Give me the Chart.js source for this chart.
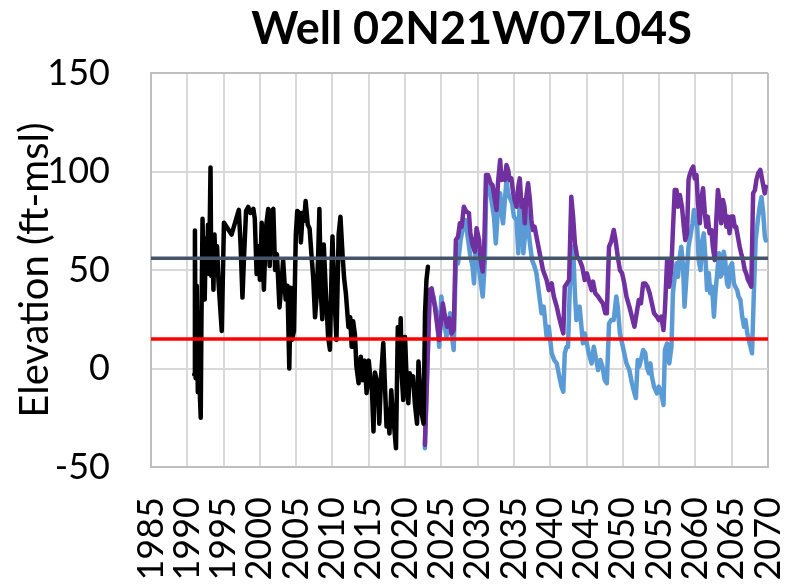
<!DOCTYPE html>
<html>
<head>
<meta charset="utf-8">
<script src="https://cdn.jsdelivr.net/npm/chart.js@4/dist/chart.umd.min.js"></script>
<style>
  html, body { margin: 0; padding: 0; background: #ffffff; }
  #chart { display: block; }
</style>
</head>
<body>
<canvas id="chart" width="800" height="584"></canvas>
<script>
// Observed groundwater elevations (decimal year, ft-msl)
const observedYears = [
  1990.95, 1991.05, 1991.15, 1991.3, 1991.45, 1991.6, 1991.75, 1991.85, 1991.95, 1992.1,
  1992.25, 1992.4, 1992.55, 1992.7, 1992.85, 1993.0, 1993.2, 1993.3, 1993.45, 1993.6,
  1993.75, 1993.9, 1994.1, 1994.3, 1994.55, 1994.75, 1995.05, 1996.1, 1997.1, 1997.35,
  1997.6, 1997.85, 1998.1, 1998.4, 1998.7, 1999.1, 1999.3, 1999.55, 1999.75, 2000.0,
  2000.25, 2000.55, 2000.85, 2001.15, 2001.35, 2001.6, 2001.85, 2002.1, 2002.35, 2002.7,
  2002.95, 2003.2, 2003.55, 2003.8, 2004.05, 2004.25, 2004.4, 2004.7, 2004.95, 2005.15,
  2005.45, 2005.65, 2005.9, 2006.1, 2006.3, 2006.6, 2006.85, 2007.1, 2007.35, 2007.6,
  2007.85, 2008.05, 2008.2, 2008.4, 2008.6, 2008.8, 2009.1, 2009.4, 2009.65, 2009.9,
  2010.0, 2010.25, 2010.55, 2010.85, 2011.1, 2011.4, 2011.6, 2011.85, 2012.2, 2012.45,
  2012.65, 2012.85, 2013.1, 2013.3, 2013.6, 2013.9, 2014.15, 2014.45, 2014.7, 2015.0,
  2015.25, 2015.45, 2015.65, 2015.85, 2016.1, 2016.3, 2016.45, 2016.7, 2017.0, 2017.2,
  2017.45, 2017.65, 2017.85, 2018.1, 2018.3, 2018.5, 2018.75, 2019.0, 2019.2, 2019.4,
  2019.55, 2019.75, 2020.0, 2020.2, 2020.45, 2020.65, 2020.9, 2021.1, 2021.35, 2021.65,
  2021.85, 2022.1, 2022.3, 2022.55, 2022.75, 2022.95, 2023.15
];
const observedElev = [
  -3, 70, -5, 42, -12, 28, -15, -25, 25, 76,
  40, 35, 66, 52, 73, 48, 102, 47, 67, 40,
  68, 48, 62, 44, 30, 19, 74, 68, 80.5, 62,
  36, 60, 80, 82, 79, 81, 76, 48, 62, 45,
  74, 40, 72, 81, 52, 80, 81, 50, 58, 31,
  42, 55, 35, 42, 0, 41, 14.5, 19, 68, 80,
  79, 64, 79, 75, 85, 73, 71, 58, 46, 26,
  38, 60, 81, 38, 25, 63, 38, 16, 9.5, 54,
  67, 38, 14.5, 68, 77, 57, 46, 38, 21, 26,
  11, 24, 17, 1, -7.5, 6, -6, 4, -12.5, 4,
  -6, -12, -32, -2, -6, -12, -28, -4, 13, -6,
  -29.5, -21, -33, -11, -23, -29.5, -40.5, 21, -1, 25.5,
  -4, -16, 16, -4, -17.7, -2.4, -6, -4, -17.7, -28,
  3.5, -12.6, -23, -28, 28, 45, 51.7
];

// Projected elevations, scenario shown in blue
const blueYears = [
  2022.73, 2023.4, 2023.9, 2024.35, 2024.7, 2025.0, 2025.35, 2025.7, 2026.2, 2026.4,
  2026.7, 2027.0, 2027.3, 2027.65, 2028.0, 2028.3, 2028.7, 2029.0, 2029.3, 2029.5,
  2029.75, 2030.05, 2030.4, 2030.7, 2031.0, 2031.2, 2031.6, 2031.9, 2032.25, 2032.5,
  2032.85, 2033.1, 2033.3, 2033.5, 2033.75, 2033.97, 2034.2, 2034.4, 2034.75, 2035.0,
  2035.35, 2035.6, 2035.8, 2036.05, 2036.3, 2036.5, 2036.7, 2036.95, 2037.2, 2037.5,
  2037.85, 2038.1, 2038.45, 2038.8, 2039.1, 2039.5, 2039.8, 2040.2, 2040.55, 2040.9,
  2041.25, 2041.55, 2041.8, 2042.0, 2042.25, 2042.45, 2042.7, 2042.9, 2043.15, 2043.4,
  2043.6, 2043.85, 2044.05, 2044.3, 2044.5, 2044.75, 2045.05, 2045.3, 2045.7, 2046.0,
  2046.25, 2046.6, 2046.9, 2047.2, 2047.5, 2047.8, 2048.1, 2048.4, 2048.75, 2049.1,
  2049.3, 2049.6, 2049.9, 2050.2, 2050.5, 2050.9, 2051.25, 2051.6, 2051.8, 2052.05,
  2052.25, 2052.5, 2052.8, 2053.1, 2053.3, 2053.6, 2053.8, 2054.0, 2054.3, 2054.7,
  2054.95, 2055.3, 2055.6, 2055.8, 2056.1, 2056.4, 2056.7, 2056.9, 2057.15, 2057.4,
  2057.6, 2057.85, 2058.05, 2058.3, 2058.5, 2058.8, 2059.05, 2059.3, 2059.6, 2059.8,
  2060.0, 2060.25, 2060.45, 2060.7, 2060.95, 2061.15, 2061.4, 2061.6, 2061.85, 2062.05,
  2062.3, 2062.55, 2062.75, 2063.0, 2063.25, 2063.45, 2063.7, 2063.9, 2064.1, 2064.35,
  2064.55, 2064.8, 2065.05, 2065.3, 2065.5, 2065.75, 2065.95, 2066.2, 2066.45, 2066.7,
  2066.9, 2067.15, 2067.35, 2067.6, 2067.8, 2068.05, 2068.3, 2068.6, 2068.85, 2069.1,
  2069.35, 2069.55, 2069.7
];
const blueElev = [
  -40.5, 38, 36.5, 28, 11, 36.5, 24.6, 16, 28, 17.8,
  9.4, 55, 53.4, 65, 72, 75.4, 65, 56.8, 51.7, 43.2,
  61.8, 55, 45, 36.5, 55, 94, 92.3, 85.5, 77, 63.5,
  83.8, 89, 78.8, 73.7, 85.5, 95.7, 89, 87, 83.8, 77,
  75.4, 58.5, 89, 75.4, 58.5, 67, 80.5, 72, 63.5, 55,
  51.7, 48.3, 38.2, 28, 31.4, 16.2, 21.2, 7.7, 4.3, 2.6,
  -4, -9.2, -11.8, 7.7, 11, 11, 41.5, 48.3, 61.8, 38.2,
  24.6, 28, 31.4, 21.2, 12.8, 17.8, 12.8, 7.7, 2.6, 11,
  6, -0.8, 4.3, 0.9, -5.8, -7.5, 22.9, 24.6, 24.6, 36.5,
  31.4, 17.8, 12.8, 7.7, 2.6, -0.8, -7.5, -12.6, -15, 4.3,
  0.9, 4.3, 9.4, 7.7, 0.9, -2.4, 2.6, -4, -9.2, -12.6,
  -9.2, -12.6, -18.5, 9.4, 12.8, 2.6, 11, 38.2, 46.6, 53.4,
  46.6, 56.8, 61.8, 51.7, 31.4, 48.3, 61.8, 67, 73.7, 80.5,
  75.4, 72, 55, 50, 65, 68.6, 55, 39.8, 48.3, 38.2,
  41.5, 26.3, 38.2, 48.3, 58.5, 46.6, 48.3, 59.3, 55, 43.2,
  41.5, 51.7, 53.4, 43.2, 41.5, 39.8, 36.5, 34.8, 26.3, 21.2,
  24.6, 17.8, 14.5, 11, 7.7, 38.2, 65, 75.4, 82, 87,
  78.8, 67.4, 65
];

// Projected elevations, scenario shown in purple
const purpleYears = [
  2022.73, 2023.4, 2023.66, 2024.1, 2024.4, 2024.7, 2024.95, 2025.2, 2025.5, 2025.8,
  2026.1, 2026.4, 2026.7, 2027.0, 2027.3, 2027.55, 2027.8, 2028.1, 2028.45, 2028.8,
  2029.0, 2029.3, 2029.6, 2029.85, 2030.2, 2030.4, 2030.7, 2030.9, 2031.15, 2031.45,
  2031.8, 2032.05, 2032.3, 2032.6, 2032.8, 2033.1, 2033.3, 2033.5, 2033.75, 2033.97,
  2034.2, 2034.4, 2034.65, 2034.9, 2035.1, 2035.35, 2035.6, 2035.8, 2036.05, 2036.3,
  2036.5, 2036.7, 2036.95, 2037.2, 2037.4, 2037.6, 2037.85, 2038.1, 2038.55, 2039.0,
  2039.5, 2039.8, 2040.2, 2040.5, 2040.9, 2041.2, 2041.55, 2041.8, 2042.0, 2042.3,
  2042.6, 2042.9, 2043.15, 2043.4, 2043.7, 2044.05, 2044.4, 2044.75, 2045.05, 2045.3,
  2045.7, 2045.9, 2046.2, 2046.6, 2046.9, 2047.25, 2047.6, 2047.8, 2048.1, 2048.4,
  2048.75, 2049.0, 2049.3, 2049.6, 2049.9, 2050.2, 2050.5, 2050.9, 2051.25, 2051.6,
  2051.9, 2052.2, 2052.5, 2052.8, 2053.1, 2053.4, 2053.7, 2054.0, 2054.3, 2054.7,
  2054.95, 2055.3, 2055.6, 2055.8, 2056.1, 2056.4, 2056.7, 2056.9, 2057.15, 2057.4,
  2057.6, 2057.85, 2058.15, 2058.4, 2058.6, 2058.85, 2059.05, 2059.2, 2059.45, 2059.7,
  2059.9, 2060.15, 2060.35, 2060.6, 2060.8, 2061.05, 2061.3, 2061.5, 2061.7, 2061.95,
  2062.2, 2062.4, 2062.65, 2062.85, 2063.1, 2063.3, 2063.55, 2063.8, 2064.0, 2064.25,
  2064.5, 2064.7, 2064.95, 2065.2, 2065.4, 2065.6, 2065.85, 2066.1, 2066.3, 2066.55,
  2066.8, 2067.0, 2067.25, 2067.5, 2067.7, 2067.95, 2068.2, 2068.4, 2068.65, 2068.95,
  2069.2, 2069.55, 2069.7
];
const purpleElev = [
  -38.8, 39.8, 40.7, 31.4, 22.9, 14.5, 24.6, 33, 26.3, 21.2,
  25.5, 17.8, 19.5, 65.2, 66.9, 73.7, 72, 82.1, 79.6, 78.8,
  68.6, 62.7, 59.3, 71.2, 65.2, 55.1, 49.2, 61.8, 98.2, 98.2,
  94, 93.1, 87.2, 80.5, 94, 105.8, 95.7, 99.1, 95.7, 103.3,
  100.8, 95.7, 96.5, 88.9, 85.5, 82.1, 92.3, 96.5, 82.1, 85.5,
  73.7, 87.2, 94, 85.5, 75.4, 70.3, 72, 66.9, 58.5, 50,
  44.9, 39.8, 43.2, 36.5, 31.4, 26.3, 21.2, 17.8, 41.5, 43.2,
  44.9, 87.2, 77.1, 63.5, 56.8, 55.1, 51.7, 44.9, 48.3, 44.9,
  39.8, 44.1, 38.2, 36.5, 34.8, 33.1, 28, 28, 61.8, 64.4,
  70.3, 65.2, 56.8, 50, 48.3, 43.2, 36.5, 31.4, 26.3, 21.2,
  28, 34.8, 33.1, 43.2, 43.2, 41.5, 38.2, 33.1, 28, 26.3,
  24.6, 26.3, 19.5, 29.7, 55.1, 41.5, 51.7, 70.3, 90.6, 90.6,
  82.1, 88.1, 82.1, 72, 65.2, 68.6, 95.7, 98.2, 100.8, 102.5,
  96.5, 98.2, 83.8, 73.7, 85.5, 91.5, 78.8, 72, 77.1, 68.6,
  70.3, 61.8, 55.1, 73.7, 90.6, 85.5, 73.7, 85.5, 82.1, 72,
  77.1, 68.6, 77.1, 77.1, 72, 72, 66.9, 61.8, 58.5, 55.1,
  50, 48.3, 44.9, 43.2, 41.5, 88.9, 90.6, 95.7, 99.1, 100.8,
  95.7, 88.9, 92.3
];

// Reference elevations drawn across the full period
const referenceYears = [1985, 2070];
const measurableObjective = 56;
const minimumThreshold = 15;

// Axis ticks and labels
const yearTicks = [1985, 1990, 1995, 2000, 2005, 2010, 2015, 2020, 2025, 2030, 2035, 2040, 2045, 2050, 2055, 2060, 2065, 2070];
const elevTicks = [-50, 0, 50, 100, 150];
const chartTitle = 'Well 02N21W07L04S';
const axisTitle = 'Elevation (ft-msl)';

const toPoints = (xs, ys) => xs.map((x, i) => ({ x: x, y: ys[i] }));
const flatLine = (xs, v) => xs.map(x => ({ x: x, y: v }));

const FONT = 'Lato';

function lineSet(label, data, color, width) {
  return {
    label: label,
    data: data,
    borderColor: color,
    backgroundColor: color,
    borderWidth: width,
    pointRadius: 0,
    pointHoverRadius: 0,
    tension: 0,
    fill: false,
    borderJoinStyle: 'round',
    borderCapStyle: 'round'
  };
}

// Chart heading, centred slightly right of the plot area's middle
const headingPlugin = {
  id: 'heading',
  afterDraw(chart) {
    const { ctx, chartArea } = chart;
    ctx.save();
    ctx.font = 'bold 45px ' + FONT;
    ctx.fillStyle = '#000000';
    ctx.textAlign = 'center';
    ctx.textBaseline = 'middle';
    ctx.fillText(chartTitle, (chartArea.left + chartArea.right) / 2 + 12, chartArea.top - 44);
    ctx.restore();
  }
};

new Chart(document.getElementById('chart'), {
  type: 'line',
  data: {
    datasets: [
      lineSet('Minimum Threshold', flatLine(referenceYears, minimumThreshold), '#FF0000', 3.5),
      lineSet('Measurable Objective', flatLine(referenceYears, measurableObjective), '#44546A', 3.5),
      lineSet('Observed', toPoints(observedYears, observedElev), '#000000', 4.5),
      lineSet('Projection B', toPoints(purpleYears, purpleElev), '#7030A0', 4.5),
      lineSet('Projection A', toPoints(blueYears, blueElev), '#5B9BD5', 4.5)
    ]
  },
  plugins: [headingPlugin],
  options: {
    responsive: false,
    animation: false,
    devicePixelRatio: 1,
    events: [],
    layout: { padding: { top: 73, right: 32, bottom: 0, left: 0 } },
    plugins: {
      legend: { display: false },
      tooltip: { enabled: false },
      title: { display: false }
    },
    scales: {
      x: {
        type: 'linear',
        min: yearTicks[0],
        max: yearTicks[yearTicks.length - 1],
        afterBuildTicks: s => { s.ticks = yearTicks.map(v => ({ value: v })); },
        ticks: {
          autoSkip: false,
          maxRotation: 90,
          minRotation: 90,
          padding: 30,
          color: '#000000',
          font: { family: FONT, size: 36 },
          callback: v => String(v)
        },
        grid: {
          drawTicks: false,
          lineWidth: 2,
          color: c => (c.tick && c.tick.value === 2070 ? '#BFBFBF' : '#D9D9D9')
        },
        border: { color: '#BFBFBF', width: 2 },
        afterFit: s => { s.height = 117; s.paddingLeft = 0; s.paddingRight = 0; }
      },
      y: {
        min: elevTicks[0],
        max: elevTicks[elevTicks.length - 1],
        afterBuildTicks: s => { s.ticks = elevTicks.map(v => ({ value: v })); },
        ticks: {
          padding: 41,
          color: '#000000',
          font: { family: FONT, size: 36 },
          callback: v => String(v)
        },
        title: {
          display: true,
          text: axisTitle,
          color: '#000000',
          font: { family: FONT, size: 40, lineHeight: 1.2 },
          padding: { top: 11, bottom: 0 }
        },
        grid: {
          drawTicks: false,
          lineWidth: 2,
          color: c => (c.tick && c.tick.value === 150 ? '#BFBFBF' : '#D9D9D9')
        },
        border: { color: '#BFBFBF', width: 2 },
        afterFit: s => { s.width = 151; s.paddingTop = 0; s.paddingBottom = 0; }
      }
    }
  }
});
</script>
</body>
</html>
